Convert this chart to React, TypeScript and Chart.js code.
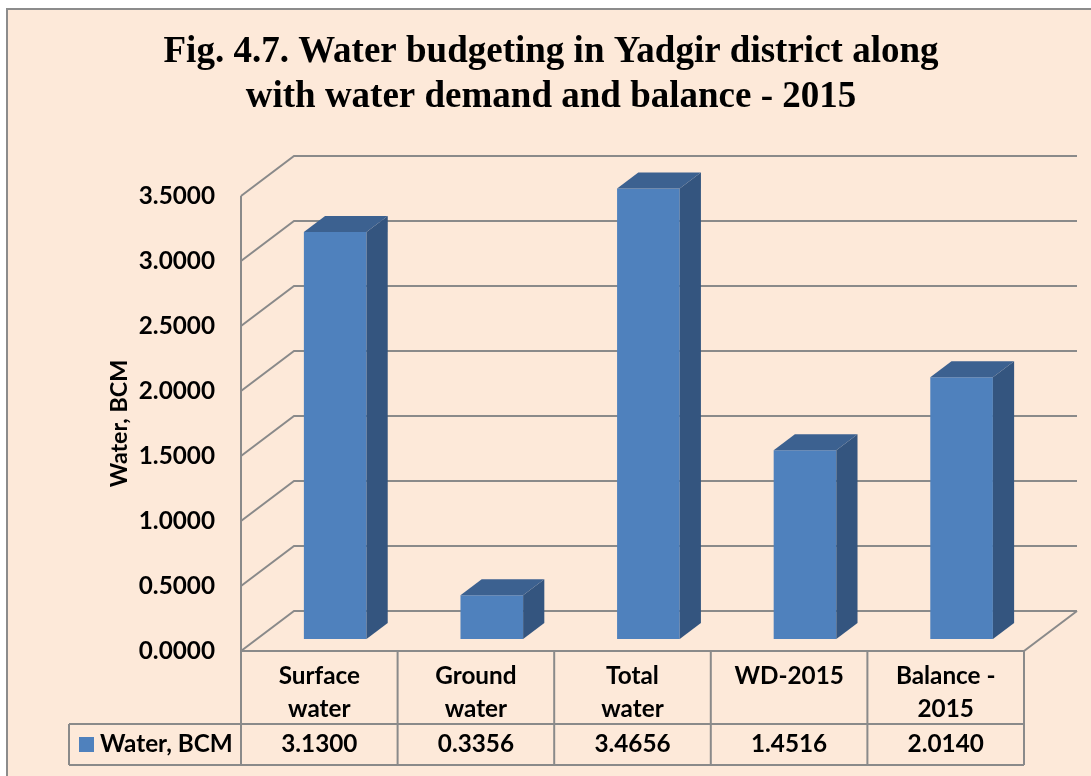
import React, { useEffect, useRef } from "react";
import { Chart, registerables } from "chart.js";
Chart.register(...registerables);

const titleLines = [
  "Fig. 4.7. Water budgeting in Yadgir district along",
  "with water demand and balance - 2015",
];
const categories: string[][] = [
  ["Surface", "water"],
  ["Ground", "water"],
  ["Total", "water"],
  ["WD-2015"],
  ["Balance -", "2015"],
];
const values = [3.13, 0.3356, 3.4656, 1.4516, 2.014];
const valueLabels = ["3.1300", "0.3356", "3.4656", "1.4516", "2.0140"];
const seriesName = "Water, BCM";
const axisTitle = "Water, BCM";
const yMin = 0;
const yMax = 3.5;
const yStep = 0.5;

const PEACH = "#FDE9D9";
const GRID = "#8A8A8A";
const FRONT = "#4F81BD";
const SIDE = "#34557F";
const TOP = "#3C6190";
const DX = 53;
const DY = 40;
const BAR_D0 = 0.3;
const BAR_D = 0.4;
const SANS = "Lato, 'Open Sans', sans-serif";
const SERIF = "'Liberation Serif', 'Times New Roman', serif";

function fitSize(family: string, text: string, target: number, base: number) {
  const c = document.createElement("canvas").getContext("2d")!;
  c.font = `bold ${base}px ${family}`;
  const w = c.measureText(text).width;
  return Math.round((base * target) / w * 10) / 10;
}

export default function App() {
  const ref = useRef<HTMLCanvasElement | null>(null);
  useEffect(() => {
    const canvas = ref.current!;
    const sansSize = fitSize(SANS, seriesName, 133, 21);
    const titleSize = fitSize(SERIF, titleLines[0], 776, 34);

    const plugin = {
      id: "excel3d",
      beforeDraw(chart: any) {
        const ctx = chart.ctx;
        ctx.save();
        ctx.fillStyle = "#ffffff";
        ctx.fillRect(0, 0, chart.width, chart.height);
        ctx.fillStyle = PEACH;
        ctx.fillRect(7, 9, chart.width - 7, chart.height - 9);
        ctx.strokeStyle = "#8C8C8C";
        ctx.lineWidth = 2;
        ctx.beginPath();
        ctx.moveTo(7, chart.height);
        ctx.lineTo(7, 9);
        ctx.lineTo(chart.width, 9);
        ctx.stroke();
        // title
        ctx.fillStyle = "#000";
        ctx.font = `bold ${titleSize}px ${SERIF}`;
        ctx.textAlign = "center";
        ctx.textBaseline = "alphabetic";
        ctx.fillText(titleLines[0], 551, 62);
        ctx.fillText(titleLines[1], 551, 107);
        ctx.restore();
      },
      beforeDatasetsDraw(chart: any) {
        const ctx = chart.ctx;
        const y = chart.scales.y;
        const x = chart.scales.x;
        const { left: L, right: R, bottom: B } = chart.chartArea;
        ctx.save();
        ctx.strokeStyle = GRID;
        ctx.lineWidth = 2;
        ctx.lineJoin = "miter";
        // walls and gridlines
        for (let v = yMin; v <= yMax + 1e-9; v += yStep) {
          const yf = y.getPixelForValue(v);
          ctx.beginPath();
          ctx.moveTo(L, yf);
          ctx.lineTo(L + DX, yf - DY);
          ctx.lineTo(R + DX, yf - DY);
          ctx.stroke();
        }
        ctx.beginPath();
        ctx.moveTo(L, y.getPixelForValue(yMax));
        ctx.lineTo(L, B + 114);
        ctx.stroke();
        // floor
        ctx.beginPath();
        ctx.moveTo(L, B);
        ctx.lineTo(R, B);
        ctx.lineTo(R + DX, B - DY);
        ctx.stroke();
        // data table
        const n = categories.length;
        const colW = (R - L) / n;
        ctx.beginPath();
        for (let i = 1; i <= n; i++) {
          const cx = L + i * colW;
          ctx.moveTo(cx, B);
          ctx.lineTo(cx, B + 114);
        }
        ctx.moveTo(69, B + 73);
        ctx.lineTo(R, B + 73);
        ctx.moveTo(69, B + 114);
        ctx.lineTo(R, B + 114);
        ctx.moveTo(69, B + 73);
        ctx.lineTo(69, B + 114);
        ctx.stroke();
        ctx.fillStyle = "#000";
        ctx.font = `bold ${sansSize}px ${SANS}`;
        ctx.textAlign = "center";
        ctx.textBaseline = "alphabetic";
        categories.forEach((lines, i) => {
          const cx = x.getPixelForValue(i);
          lines.forEach((t, j) => ctx.fillText(t, cx, B + 33 + j * 33));
          ctx.fillText(valueLabels[i], cx, B + 101);
        });
        ctx.textAlign = "left";
        ctx.fillText(seriesName, 100, B + 101);
        ctx.fillStyle = FRONT;
        ctx.fillRect(79, B + 86, 15, 15);
        ctx.restore();
      },
      beforeDatasetDraw(chart: any) {
        chart.ctx.save();
        chart.ctx.translate(BAR_D0 * DX, -BAR_D0 * DY);
      },
      afterDatasetDraw(chart: any, args: any) {
        const ctx = chart.ctx;
        const meta = chart.getDatasetMeta(args.index);
        meta.data.forEach((bar: any) => {
          const { x, y, base, width } = bar.getProps(["x", "y", "base", "width"], true);
          const r = x + width / 2;
          const l = x - width / 2;
          const dx = BAR_D * DX;
          const dy = BAR_D * DY;
          ctx.fillStyle = SIDE;
          ctx.beginPath();
          ctx.moveTo(r, y);
          ctx.lineTo(r + dx, y - dy);
          ctx.lineTo(r + dx, base - dy);
          ctx.lineTo(r, base);
          ctx.closePath();
          ctx.fill();
          ctx.fillStyle = TOP;
          ctx.beginPath();
          ctx.moveTo(l, y);
          ctx.lineTo(l + dx, y - dy);
          ctx.lineTo(r + dx, y - dy);
          ctx.lineTo(r, y);
          ctx.closePath();
          ctx.fill();
        });
        ctx.restore();
      },
    };

    const chart = new Chart(canvas, {
      type: "bar",
      data: {
        labels: categories.map((c) => c.join(" ")),
        datasets: [
          {
            label: seriesName,
            data: values,
            backgroundColor: FRONT,
            borderWidth: 0,
            categoryPercentage: 1,
            barPercentage: 0.4,
          },
        ],
      },
      options: {
        animation: false,
        responsive: false,
        maintainAspectRatio: false,
        layout: { padding: { left: 100, right: 67, top: 196, bottom: 125 } },
        plugins: {
          legend: { display: false },
          tooltip: { enabled: false },
          title: { display: false },
        },
        scales: {
          x: { display: false, offset: true },
          y: {
            min: yMin,
            max: yMax,
            ticks: {
              stepSize: yStep,
              callback: (v: any) => Number(v).toFixed(4),
              font: { family: SANS, weight: "bold", size: sansSize },
              color: "#000",
              padding: 26,
            },
            grid: { display: false, drawTicks: false },
            border: { display: false },
            title: {
              display: true,
              text: axisTitle,
              color: "#000",
              font: { family: SANS, weight: "bold", size: sansSize - 1 },
              padding: { top: 5, bottom: 0 },
            },
            afterFit: (s: any) => {
              s.width = 141;
            },
          },
        },
      },
      plugins: [plugin],
    } as any);
    return () => chart.destroy();
  }, []);

  return (
    <div style={{ position: "fixed", left: 0, top: 0, width: 1091, height: 776 }}>
      <canvas ref={ref} width={1091} height={776} style={{ display: "block", width: 1091, height: 776 }} />
    </div>
  );
}
